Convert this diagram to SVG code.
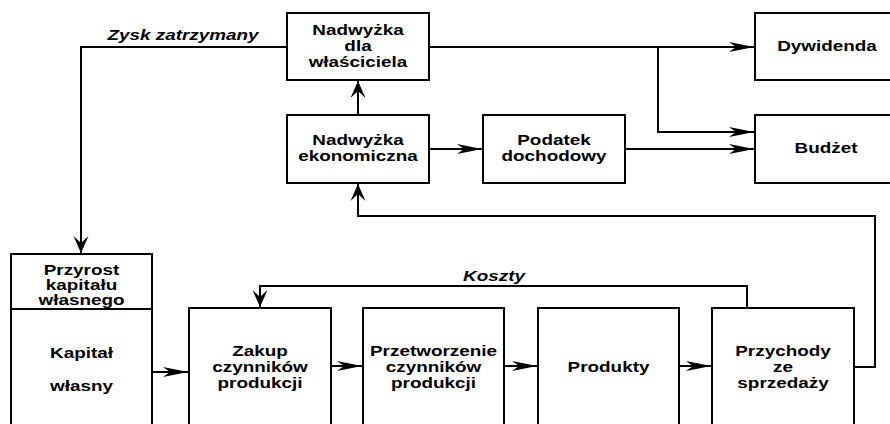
<svg xmlns="http://www.w3.org/2000/svg" width="890" height="424" viewBox="0 0 890 424">
  <style>
    .box { fill: #fff; stroke: #000; stroke-width: 2; }
    .wire { fill: none; stroke: #000; stroke-width: 2; }
    .t { font-family: "Liberation Sans", Arial, sans-serif; font-weight: bold; font-size: 14px; fill: #000; text-anchor: middle; }
    .lbl { font-family: "Liberation Sans", Arial, sans-serif; font-weight: bold; font-style: italic; font-size: 14px; fill: #000; text-anchor: middle; }
  </style>
  <defs>
    <!-- long slim head for horizontal flows -->
    <marker id="ah" markerUnits="userSpaceOnUse" viewBox="-26 -6 28 12" refX="0" refY="0" markerWidth="28" markerHeight="12" orient="auto">
      <path d="M0,0 L-25,-5 L-18,0 L-25,5 Z" fill="#000"/>
    </marker>
    <!-- short wide head for vertical flows -->
    <marker id="av" markerUnits="userSpaceOnUse" viewBox="-18 -9 20 18" refX="0" refY="0" markerWidth="20" markerHeight="18" orient="auto">
      <path d="M0,0 L-17,-7.5 L-10,0 L-17,7.5 Z" fill="#000"/>
    </marker>
  </defs>

  <g id="connectors">
    <polyline class="wire" points="287,47 81,47 81,253" marker-end="url(#av)"/>
    <line class="wire" x1="358" y1="115" x2="358" y2="81" marker-end="url(#av)"/>
    <line class="wire" x1="429" y1="47" x2="754" y2="47" marker-end="url(#ah)"/>
    <polyline class="wire" points="658,47 658,132 754,132" marker-end="url(#ah)"/>
    <line class="wire" x1="429" y1="149" x2="482" y2="149" marker-end="url(#ah)"/>
    <line class="wire" x1="625" y1="149" x2="754" y2="149" marker-end="url(#ah)"/>
    <polyline class="wire" points="854,367 875,367 875,216 358,216 358,184" marker-end="url(#av)"/>
    <polyline class="wire" points="747,308 747,286 260,286 260,307" marker-end="url(#av)"/>
    <line class="wire" x1="152" y1="372" x2="188" y2="372" marker-end="url(#ah)"/>
    <line class="wire" x1="331" y1="366" x2="362" y2="366" marker-end="url(#ah)"/>
    <line class="wire" x1="504" y1="366" x2="537" y2="366" marker-end="url(#ah)"/>
    <line class="wire" x1="679" y1="366" x2="711" y2="366" marker-end="url(#ah)"/>
    <text class="lbl" transform="translate(183,0) scale(1.35,1)" x="0" y="40">Zysk zatrzymany</text>
    <text class="lbl" transform="translate(494,0) scale(1.35,1)" x="0" y="281">Koszty</text>
  </g>

  <g id="nadwyzka-wlasciciel">
    <rect class="box" x="287" y="13" width="142" height="67"/>
    <text class="t" transform="translate(358,0) scale(1.35,1)"><tspan x="0" y="35">Nadwyżka</tspan><tspan x="0" y="51">dla</tspan><tspan x="0" y="67">właściciela</tspan></text>
  </g>

  <g id="nadwyzka-ekonomiczna">
    <rect class="box" x="287" y="115" width="142" height="68"/>
    <text class="t" transform="translate(358,0) scale(1.35,1)"><tspan x="0" y="145">Nadwyżka</tspan><tspan x="0" y="161">ekonomiczna</tspan></text>
  </g>

  <g id="podatek">
    <rect class="box" x="483" y="115" width="142" height="68"/>
    <text class="t" transform="translate(554,0) scale(1.35,1)"><tspan x="0" y="145">Podatek</tspan><tspan x="0" y="161">dochodowy</tspan></text>
  </g>

  <g id="dywidenda">
    <rect class="box" x="755" y="13" width="150" height="67"/>
    <text class="t" transform="translate(827,0) scale(1.35,1)" x="0" y="51">Dywidenda</text>
  </g>

  <g id="budzet">
    <rect class="box" x="755" y="115" width="150" height="68"/>
    <text class="t" transform="translate(826,0) scale(1.35,1)" x="0" y="153">Budżet</text>
  </g>

  <g id="kapital">
    <rect class="box" x="11" y="254" width="141" height="190"/>
    <line class="wire" x1="11" y1="309" x2="152" y2="309"/>
    <text class="t" transform="translate(81.5,0) scale(1.35,1)"><tspan x="0" y="275">Przyrost</tspan><tspan x="0" y="290">kapitału</tspan><tspan x="0" y="305">własnego</tspan></text>
    <text class="t" transform="translate(81.5,0) scale(1.35,1)"><tspan x="0" y="358">Kapitał</tspan><tspan x="0" y="391">własny</tspan></text>
  </g>

  <g id="zakup">
    <rect class="box" x="189" y="308" width="142" height="136"/>
    <text class="t" transform="translate(260,0) scale(1.35,1)"><tspan x="0" y="356">Zakup</tspan><tspan x="0" y="372">czynników</tspan><tspan x="0" y="388">produkcji</tspan></text>
  </g>

  <g id="przetworzenie">
    <rect class="box" x="363" y="308" width="141" height="136"/>
    <text class="t" transform="translate(433.5,0) scale(1.35,1)"><tspan x="0" y="356">Przetworzenie</tspan><tspan x="0" y="372">czynników</tspan><tspan x="0" y="388">produkcji</tspan></text>
  </g>

  <g id="produkty">
    <rect class="box" x="538" y="308" width="141" height="136"/>
    <text class="t" transform="translate(608.5,0) scale(1.35,1)" x="0" y="372">Produkty</text>
  </g>

  <g id="przychody">
    <rect class="box" x="712" y="308" width="142" height="136"/>
    <text class="t" transform="translate(783,0) scale(1.35,1)"><tspan x="0" y="356">Przychody</tspan><tspan x="0" y="372">ze</tspan><tspan x="0" y="388">sprzedaży</tspan></text>
  </g>
</svg>
